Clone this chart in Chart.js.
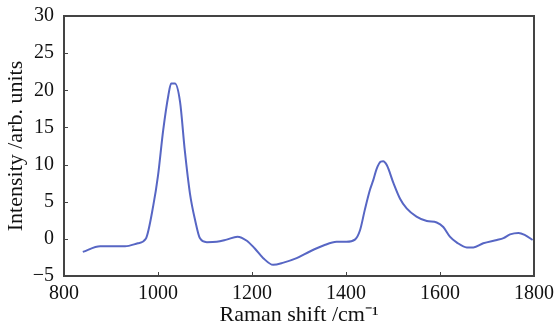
<!DOCTYPE html>
<html>
<head>
<meta charset="utf-8">
<script src="https://cdn.jsdelivr.net/npm/chart.js@4.4.1/dist/chart.umd.min.js"></script>
<style>
	html, body { margin: 0; padding: 0; background: #fff; }
	#wrap { width: 557px; height: 328px; }
</style>
</head>
<body>
<div id="wrap"><canvas id="raman"></canvas></div>
<script>
// Raman spectrum
var shift = [840, 877, 900, 930, 957, 974, 990, 1000, 1011, 1022, 1028, 1036, 1047, 1057, 1068, 1079, 1089,
	1104, 1125, 1146, 1169, 1189, 1206, 1224, 1245, 1267, 1295, 1323, 1352, 1380, 1401, 1419, 1430, 1440,
	1451, 1458, 1465, 1474, 1479, 1487, 1501, 1515, 1529, 1550, 1572, 1593, 1607, 1621, 1636, 1657, 1671,
	1692, 1721, 1735, 1749, 1767, 1781, 1797];
var intensity = [-1.75, -1.0, -1.0, -1.0, -0.6, 0.0, 4.5, 8.5, 14.6, 19.3, 20.9, 20.9, 18.4, 11.9, 6.1, 2.5, 0.1,
	-0.45, -0.4, -0.1, 0.3, -0.25, -1.3, -2.6, -3.5, -3.2, -2.6, -1.7, -0.9, -0.4, -0.4, -0.1, 1.2, 3.9,
	6.6, 7.9, 9.4, 10.4, 10.45, 9.9, 7.5, 5.4, 4.1, 3.0, 2.4, 2.2, 1.6, 0.3, -0.5, -1.15, -1.15,
	-0.6, -0.15, 0.1, 0.6, 0.8, 0.5, -0.15];
var xTicks = [800, 1000, 1200, 1400, 1600, 1800];
var yTicks = [-5, 0, 5, 10, 15, 20, 25, 30];

var points = [];
for (var i in shift) {
	points.push({x: shift[i], y: intensity[i]});
}

// box frame plus small inward ticks
var frame = {
	id: 'frame',
	afterDraw: function (chart) {
		var c = chart.ctx, a = chart.chartArea;
		var xs = chart.scales.x, ys = chart.scales.y;
		c.save();
		c.strokeStyle = '#444';
		c.lineWidth = 2;
		c.strokeRect(a.left, a.top, a.right - a.left, a.bottom - a.top);
		c.lineWidth = 1;
		c.beginPath();
		xTicks.forEach(function (v) {
			var px = Math.round(xs.getPixelForValue(v)) + 0.5;
			c.moveTo(px, a.bottom); c.lineTo(px, a.bottom - 4);
		});
		yTicks.forEach(function (v) {
			var py = Math.round(ys.getPixelForValue(v)) + 0.5;
			c.moveTo(a.left, py); c.lineTo(a.left + 4, py);
		});
		c.stroke();
		c.restore();
	}
};

var serif = 'Liberation Serif';

var ctx = document.getElementById('raman');
new Chart(ctx, {
	type: 'line',
	data: {
		datasets: [{
			data: points,
			borderColor: '#5766c4',
			borderWidth: 2,
			pointRadius: 0,
			fill: false,
			cubicInterpolationMode: 'monotone'
		}]
	},
	options: {
		responsive: true,
		maintainAspectRatio: false,
		animation: false,
		layout: { padding: { top: 16, right: 23, left: 0, bottom: 0 } },
		plugins: { legend: { display: false }, tooltip: { enabled: false } },
		scales: {
			x: {
				type: 'linear',
				min: 800, max: 1800,
				afterBuildTicks: function (s) { s.ticks = xTicks.map(function (v) { return {value: v}; }); },
				afterFit: function (s) { s.height = 52; s.paddingLeft = 0; s.paddingRight = 0; },
				grid: { display: false, drawTicks: false },
				border: { display: false },
				ticks: {
					color: '#111', padding: 6,
					font: { family: serif, size: 20 },
					callback: function (v) { return String(v); }
				},
				title: {
					display: true,
					text: 'Raman shift /cm\u207B\u00B9',
					color: '#111',
					padding: { top: 0, bottom: 0 },
					font: { family: serif, size: 22 }
				}
			},
			y: {
				min: -5, max: 30,
				afterBuildTicks: function (s) { s.ticks = yTicks.map(function (v) { return {value: v}; }); },
				afterFit: function (s) { s.width = 64; s.paddingTop = 0; s.paddingBottom = 0; },
				grid: { display: false, drawTicks: false },
				border: { display: false },
				ticks: {
					color: '#111', padding: 10,
					font: { family: serif, size: 20 },
					callback: function (v) { return v < 0 ? '\u2212' + Math.abs(v) : String(v); }
				},
				title: {
					display: true,
					text: 'Intensity /arb. units',
					color: '#111',
					padding: { top: 3, bottom: 0 },
					font: { family: serif, size: 22 }
				}
			}
		}
	},
	plugins: [frame]
});
</script>
</body>
</html>
